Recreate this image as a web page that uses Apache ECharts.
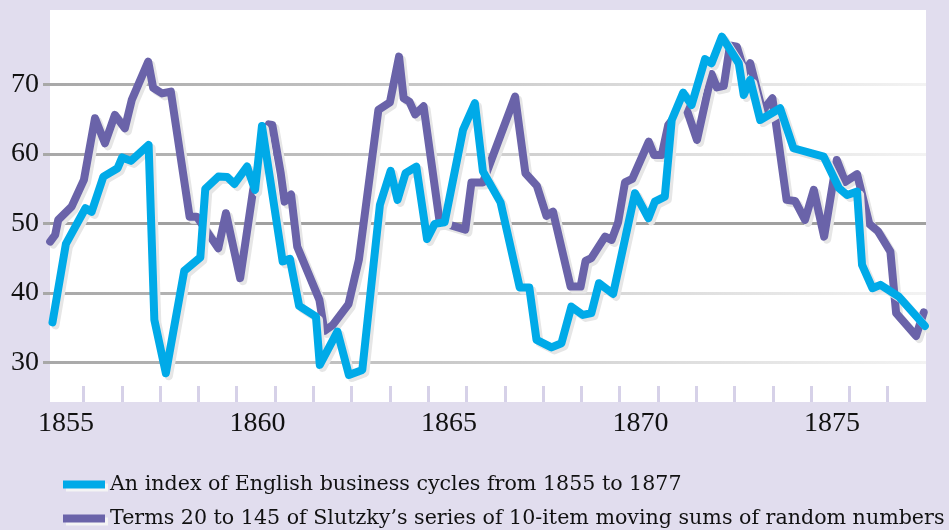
<!DOCTYPE html>
<html>
<head>
<meta charset="utf-8">
<script src="https://cdn.jsdelivr.net/npm/echarts@6/dist/echarts.min.js"></script>
<style>
html,body{margin:0;padding:0;background:#e1ddee;}
#chart{width:949px;height:530px;}
</style>
</head>
<body>
<div id="chart"></div>
<script>
// ---- data ----
const businessYears = [1854.19,1854.54,1855.05,1855.21,1855.52,1855.89,1856.01,1856.24,1856.70,1856.85,1857.15,1857.63,1858.05,1858.18,1858.52,1858.75,1858.94,1859.27,1859.48,1859.66,1860.20,1860.39,1860.63,1861.07,1861.17,1861.63,1861.93,1862.28,1862.74,1863.02,1863.20,1863.41,1863.69,1863.97,1864.17,1864.43,1864.91,1865.22,1865.43,1865.89,1866.39,1866.64,1866.83,1867.22,1867.48,1867.74,1868.04,1868.26,1868.46,1868.83,1869.40,1869.75,1869.92,1870.18,1870.36,1870.66,1870.88,1871.23,1871.40,1871.67,1872.11,1872.24,1872.41,1872.67,1873.19,1873.54,1874.33,1874.73,1874.94,1875.20,1875.33,1875.60,1875.81,1876.29,1876.97];
const businessIndex = [35.75,47.05,52.18,51.65,56.73,57.94,59.49,58.99,61.29,36.11,28.44,43.16,45.10,54.96,56.73,56.68,55.68,58.17,54.81,64.02,44.53,44.89,38.13,36.59,29.64,34.43,28.20,28.92,52.66,57.55,53.38,57.22,58.17,47.76,49.92,50.17,63.45,67.29,57.48,53.02,40.79,40.79,33.23,32.15,32.76,38.02,36.83,37.08,41.39,39.85,54.34,50.74,53.13,53.85,64.88,68.81,67.04,73.62,73.04,76.87,73.04,68.48,70.64,64.88,66.57,60.81,59.60,55.06,54.09,54.57,44.02,40.67,41.15,39.46,35.25];

const slutzkyYears = [1854.13,1854.26,1854.34,1854.69,1855.01,1855.30,1855.56,1855.82,1856.08,1856.26,1856.69,1856.82,1857.05,1857.28,1857.77,1857.96,1858.52,1858.72,1859.09,1859.43,1859.84,1859.93,1860.15,1860.25,1860.42,1860.58,1861.16,1861.29,1861.51,1861.92,1862.19,1862.70,1863.00,1863.24,1863.36,1863.51,1863.66,1863.88,1864.30,1864.97,1865.13,1865.43,1866.27,1866.54,1866.84,1867.09,1867.26,1867.72,1867.98,1868.11,1868.26,1868.62,1868.79,1868.96,1869.14,1869.33,1869.76,1869.90,1870.10,1870.27,1870.70,1871.02,1871.40,1871.54,1871.72,1871.88,1872.06,1872.27,1872.41,1872.73,1872.99,1873.36,1873.58,1873.84,1874.07,1874.34,1874.67,1874.89,1875.20,1875.52,1875.74,1876.07,1876.22,1876.74,1876.94];
const slutzkySums = [47.38,48.34,50.50,52.41,56.25,65.13,61.53,65.60,63.69,67.76,73.27,69.49,68.70,68.96,50.97,50.97,46.43,51.46,42.11,54.81,64.24,64.16,57.22,53.13,54.17,46.66,38.99,34.53,35.39,38.38,44.74,66.32,67.40,73.99,68.01,67.52,65.68,66.85,50.21,49.10,55.89,55.89,68.24,57.22,55.39,51.07,51.69,40.90,40.90,44.60,44.99,48.10,47.62,50.14,55.89,56.40,61.76,59.85,59.85,64.16,67.19,62.01,71.50,69.56,69.78,75.60,75.43,71.65,73.04,66.18,68.00,53.38,53.23,50.50,54.81,48.10,59.13,55.96,57.09,49.92,48.91,45.94,37.08,33.81,37.19];

const xTickYears = [1855,1856,1857,1858,1859,1860,1861,1862,1863,1864,1865,1866,1867,1868,1869,1870,1871,1872,1873,1874,1875,1876];
const xLabelYears = [1855,1860,1865,1870,1875];
const yTickValues = [30,40,50,60,70];

const seriesNames = [
  'An index of English business cycles from 1855 to 1877',
  'Terms 20 to 145 of Slutzky\u2019s series of 10-item moving sums of random numbers'
];

// ---- chart ----
const pairs = (xs, ys) => xs.map((x, i) => [x, ys[i]]);
const fade = new echarts.graphic.LinearGradient(0, 0, 1, 0, [
  {offset: 0, color: '#a8a8a8'}, {offset: 1, color: '#f3f3f3'}
]);
const legendBase = {
  orient: 'horizontal', left: 58,
  icon: 'rect', itemWidth: 42, itemHeight: 8, itemGap: 10,
  itemStyle: {shadowColor: '#f4f4f4', shadowOffsetX: 3, shadowOffsetY: 3, shadowBlur: 0},
  textStyle: {fontFamily: 'DejaVu Serif', fontSize: 20.6, color: '#111111'}
};

const chart = echarts.init(document.getElementById('chart'), null, {renderer: 'canvas'});
chart.setOption({
  animation: false,
  backgroundColor: '#e1ddee',
  grid: {left: 50, right: 23, top: 10, bottom: 128, show: true, backgroundColor: '#ffffff', borderWidth: 0},
  legend: [
    Object.assign({}, legendBase, {top: 469, data: [seriesNames[0]]}),
    Object.assign({}, legendBase, {top: 503, data: [seriesNames[1]]})
  ],
  xAxis: {
    type: 'value', min: 1854.125, max: 1877,
    axisLine: {show: false},
    splitLine: {show: false},
    axisTick: {show: true, inside: true, length: 16, customValues: xTickYears, lineStyle: {color: '#d6d1e8', width: 3}},
    axisLabel: {customValues: xLabelYears, margin: 8, padding: [0, 35, 0, 0],
      formatter: v => String(v),
      fontFamily: 'Liberation Serif', fontSize: 28, color: '#111111'}
  },
  yAxis: {
    type: 'value', min: 24.3, max: 80.7,
    axisLine: {show: false},
    axisTick: {show: true, inside: false, length: 7, customValues: yTickValues, lineStyle: {color: '#a8a8a8', width: 3}},
    axisLabel: {customValues: yTickValues, margin: 11, formatter: v => String(v),
      fontFamily: 'Liberation Serif', fontSize: 28, color: '#111111'},
    splitLine: {show: true, lineStyle: {width: 3, color: [fade, fade, '#a0a0a0', fade, fade]}}
  },
  series: [
    {
      name: seriesNames[1], type: 'line', showSymbol: false, symbol: 'none',
      data: pairs(slutzkyYears, slutzkySums),
      itemStyle: {color: '#6a63a9'},
      lineStyle: {color: '#6a63a9', width: 8, cap: 'round', join: 'round',
        shadowColor: '#e6e6e6', shadowOffsetX: 3, shadowOffsetY: 3, shadowBlur: 0},
      z: 2
    },
    {
      name: seriesNames[0], type: 'line', showSymbol: false, symbol: 'none',
      data: pairs(businessYears, businessIndex),
      itemStyle: {color: '#00aae8'},
      lineStyle: {color: '#00aae8', width: 8, cap: 'round', join: 'round',
        shadowColor: '#e6e6e6', shadowOffsetX: 3, shadowOffsetY: 3, shadowBlur: 0},
      z: 3
    }
  ]
});
</script>
</body>
</html>
